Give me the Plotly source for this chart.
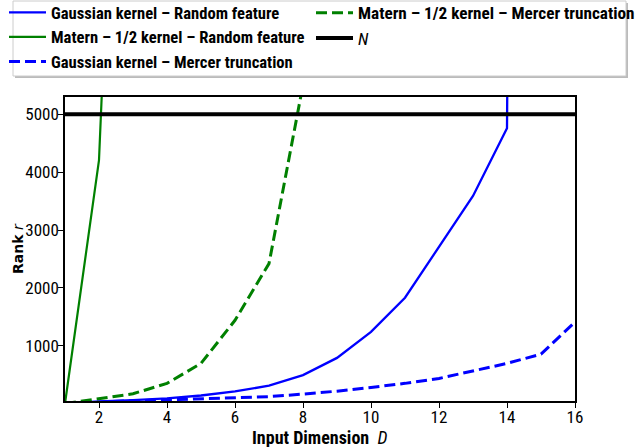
import plotly.graph_objects as go

D = list(range(1, 17))
gauss_rf = [1, 40, 60, 90, 140, 210, 310, 493, 790, 1240, 1830, 2700, 3590, 4760, 90000, None]
matern_rf = [1, 4210, 18000, None, None, None, None, None, None, None, None, None, None, None, None, None]
gauss_mercer = [1, 30, 50, 65, 80, 100, 120, 165, 215, 280, 350, 435, 565, 695, 855, 1410]
matern_mercer = [1, 80, 170, 350, 695, 1440, 2420, 5510, 30000, None, None, None, None, None, None, None]
N_val = 5000

x_ticks = [2, 4, 6, 8, 10, 12, 14, 16]
y_ticks = [1000, 2000, 3000, 4000, 5000]

BLUE = "#0000ff"
GREEN = "#008000"
FONT = "Roboto Condensed, DejaVu Sans Condensed, sans-serif"
W, H = 639, 447
ML, MR, MT, MB = 65, 64, 97, 46
PW, PH = W - ML - MR, H - MT - MB


def px2paper_x(px):
    return (px - ML) / PW


def px2paper_y(py):
    return (H - MB - py) / PH


fig = go.Figure()
fig.add_trace(go.Scatter(x=D, y=gauss_rf, mode="lines", name="Gaussian kernel – Random feature",
                         line=dict(color=BLUE, width=2.3), legend="legend"))
fig.add_trace(go.Scatter(x=D, y=matern_rf, mode="lines", name="Matern – 1/2 kernel – Random feature",
                         line=dict(color=GREEN, width=2.2), legend="legend"))
fig.add_trace(go.Scatter(x=D, y=gauss_mercer, mode="lines", name="Gaussian kernel – Mercer truncation",
                         line=dict(color=BLUE, width=3, dash="11px,5px"), legend="legend"))
fig.add_trace(go.Scatter(x=D, y=matern_mercer, mode="lines", name="Matern – 1/2 kernel – Mercer truncation",
                         line=dict(color=GREEN, width=3, dash="11px,5px"), legend="legend2"))
fig.add_trace(go.Scatter(x=[D[0], D[-1]], y=[N_val, N_val], mode="lines",
                         name="<span style='font-weight:normal'><i>N</i></span>",
                         line=dict(color="black", width=4), legend="legend2"))

# legend frame with a light shadow
fig.add_shape(type="rect", xref="paper", yref="paper", layer="below",
              x0=px2paper_x(15), x1=px2paper_x(628), y0=px2paper_y(78), y1=px2paper_y(3),
              line=dict(width=0), fillcolor="#bbbbbb")
fig.add_shape(type="rect", xref="paper", yref="paper", layer="below",
              x0=px2paper_x(13), x1=px2paper_x(626), y0=px2paper_y(76), y1=px2paper_y(1),
              line=dict(color="#cccccc", width=1), fillcolor="white")

# axis titles
fig.add_annotation(x=px2paper_x(319), y=px2paper_y(437), xref="paper", yref="paper",
                   xanchor="center", yanchor="middle", showarrow=False,
                   text="<b>Input Dimension</b>  <i>D</i>",
                   font=dict(family=FONT, size=18, color="black"))
fig.add_annotation(x=px2paper_x(18), y=px2paper_y(249), xref="paper", yref="paper",
                   xanchor="center", yanchor="middle", showarrow=False, textangle=-90,
                   text="<b>Rank</b> <i>r</i>",
                   font=dict(family="DejaVu Sans", size=14, color="black"))

fig.update_layout(
    width=W, height=H,
    margin=dict(l=ML, r=MR, t=MT, b=MB, autoexpand=False),
    paper_bgcolor="white", plot_bgcolor="white",
    font=dict(family=FONT, size=17, color="black"),
    showlegend=True,
    legend=dict(
        orientation="v",
        x=px2paper_x(4), y=px2paper_y(-5), xanchor="left", yanchor="top",
        bgcolor="rgba(0,0,0,0)", borderwidth=0,
        font=dict(family=FONT, size=16.6, color="black", weight="bold"),
        tracegroupgap=0, itemwidth=37,
    ),
    legend2=dict(
        orientation="v",
        x=px2paper_x(311), y=px2paper_y(-5), xanchor="left", yanchor="top",
        bgcolor="rgba(0,0,0,0)", borderwidth=0,
        font=dict(family=FONT, size=17.2, color="black", weight="bold"),
        tracegroupgap=0, itemwidth=37,
    ),
    xaxis=dict(
        range=[1, 16], tickvals=x_ticks,
        showgrid=False, zeroline=False, automargin=False,
        showline=True, linecolor="black", linewidth=1.5, mirror=True,
        ticks="outside", ticklen=5, tickcolor="black",
        tickfont=dict(size=17), ticklabelstandoff=-5,
    ),
    yaxis=dict(
        range=[45, 5300], tickvals=y_ticks,
        showgrid=False, zeroline=False, automargin=False,
        showline=True, linecolor="black", linewidth=1.5, mirror=True,
        ticks="outside", ticklen=5, tickcolor="black",
        tickfont=dict(size=17), ticklabelstandoff=-4,
    ),
)

fig.write_html("out.html", config={"displayModeBar": False},
               post_script="document.body.style.margin='0px';")
